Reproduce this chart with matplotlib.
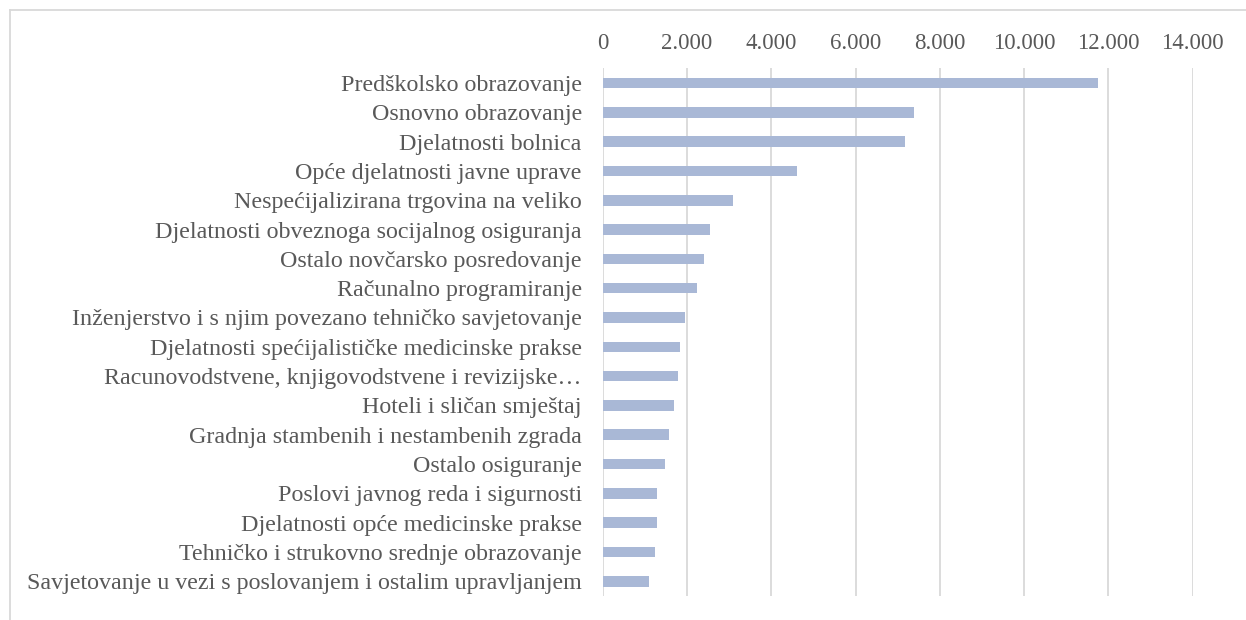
import matplotlib.pyplot as plt
import matplotlib.ticker as mticker

# Podaci
djelatnosti = [
    "Predškolsko obrazovanje",
    "Osnovno obrazovanje",
    "Djelatnosti bolnica",
    "Opće djelatnosti javne uprave",
    "Nespećijalizirana trgovina na veliko",
    "Djelatnosti obveznoga socijalnog osiguranja",
    "Ostalo novčarsko posredovanje",
    "Računalno programiranje",
    "Inženjerstvo i s njim povezano tehničko savjetovanje",
    "Djelatnosti spećijalističke medicinske prakse",
    "Racunovodstvene, knjigovodstvene i revizijske…",
    "Hoteli i sličan smještaj",
    "Gradnja stambenih i nestambenih zgrada",
    "Ostalo osiguranje",
    "Poslovi javnog reda i sigurnosti",
    "Djelatnosti opće medicinske prakse",
    "Tehničko i strukovno srednje obrazovanje",
    "Savjetovanje u vezi s poslovanjem i ostalim upravljanjem",
]
vrijednosti = [11760, 7390, 7170, 4610, 3100, 2540, 2415, 2230, 1960,
               1835, 1785, 1690, 1580, 1485, 1295, 1295, 1250, 1100]
x_ticks = [0, 2000, 4000, 6000, 8000, 10000, 12000, 14000]

plt.rcParams['font.family'] = ['Liberation Serif', 'DejaVu Serif']

fig = plt.figure(figsize=(12.46, 6.2), dpi=100)
ax = fig.add_axes([602.7 / 1246, 1 - 596 / 620, (1192.7 - 602.7) / 1246, (596 - 68.3) / 620])

pos = list(range(len(djelatnosti)))
ax.barh(pos, vrijednosti, height=0.36, color='#A9B8D6', zorder=3)

ax.set_ylim(len(djelatnosti) - 0.5, -0.5)
ax.set_yticks(pos)
ax.set_yticklabels(djelatnosti)
ax.set_xlim(0, 14000)
ax.set_xticks(x_ticks)
ax.xaxis.set_major_formatter(mticker.FuncFormatter(lambda v, p: f"{int(v):,}".replace(",", ".")))
ax.xaxis.tick_top()

ax.grid(axis='x', color='#D9D9D9', linewidth=1.3, zorder=0)
for s in ax.spines.values():
    s.set_visible(False)
ax.tick_params(axis='both', length=0, colors='#595959')
ax.tick_params(axis='x', pad=10, labelsize=16.5)
ax.tick_params(axis='y', pad=15, labelsize=17.3)

# okvir grafikona (samo gornji i lijevi rub vidljivi)
fig.add_artist(plt.Line2D([10 / 1246, 10 / 1246], [0, 1 - 10 / 620],
                          transform=fig.transFigure, color='#D9D9D9', linewidth=1.3))
fig.add_artist(plt.Line2D([10 / 1246, 1], [1 - 10 / 620, 1 - 10 / 620],
                          transform=fig.transFigure, color='#D9D9D9', linewidth=1.3))

fig.savefig('out.png', dpi=100)
